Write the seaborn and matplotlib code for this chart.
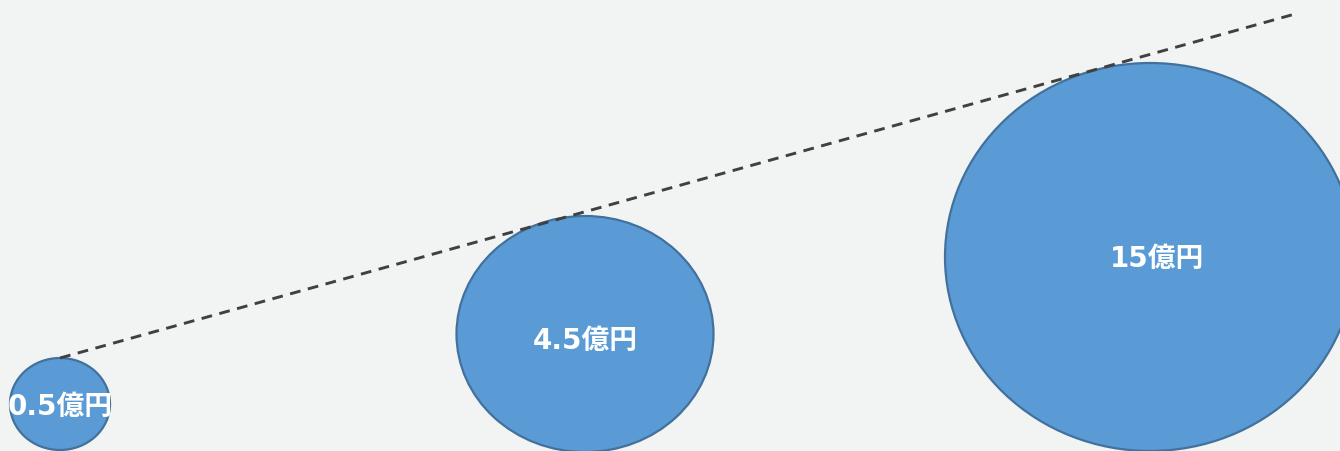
import matplotlib
matplotlib.use("Agg")
import matplotlib.pyplot as plt
from matplotlib.patches import Ellipse
import seaborn as sns
import pandas as pd

# Data
labels = ["0.5億円", "4.5億円", "15億円"]
values = [0.5, 4.5, 15]
bubble_x = [60, 585, 1150]
bubble_y = [404, 334, 257]
bubble_w = [100, 257, 410]
bubble_h = [92, 236, 388]
label_x = [60, 585, 1157]
label_y = [407, 341, 259]
trend_x = [60, 1295]
trend_y = [358, 14]

sns.set_theme(style="white")
plt.rcParams['font.family'] = ['DejaVu Sans', 'Noto Sans CJK JP']

bg = "#f2f4f3"
fig = plt.figure(figsize=(13.4, 4.51), dpi=100, facecolor=bg)
ax = fig.add_axes([0, 0, 1, 1])
ax.set_facecolor(bg)

for x, y, w, h in zip(bubble_x, bubble_y, bubble_w, bubble_h):
    ax.add_patch(Ellipse((x, y), w, h, facecolor="#5b9bd5",
                         edgecolor="#41719c", linewidth=1.6, zorder=2))

trend = pd.DataFrame({"x": trend_x, "y": trend_y})
sns.lineplot(data=trend, x="x", y="y", ax=ax, color="#404040",
             linewidth=2.1, linestyle=(0, (3.7, 2.6)), zorder=3)

for x, y, t in zip(label_x, label_y, labels):
    ax.text(x, y, t, ha="center", va="center", color="white",
            fontsize=20, fontweight="bold", zorder=4)

ax.set_xlim(0, 1340)
ax.set_ylim(451, 0)
ax.axis("off")
fig.savefig("out.png", dpi=100, facecolor=bg)
